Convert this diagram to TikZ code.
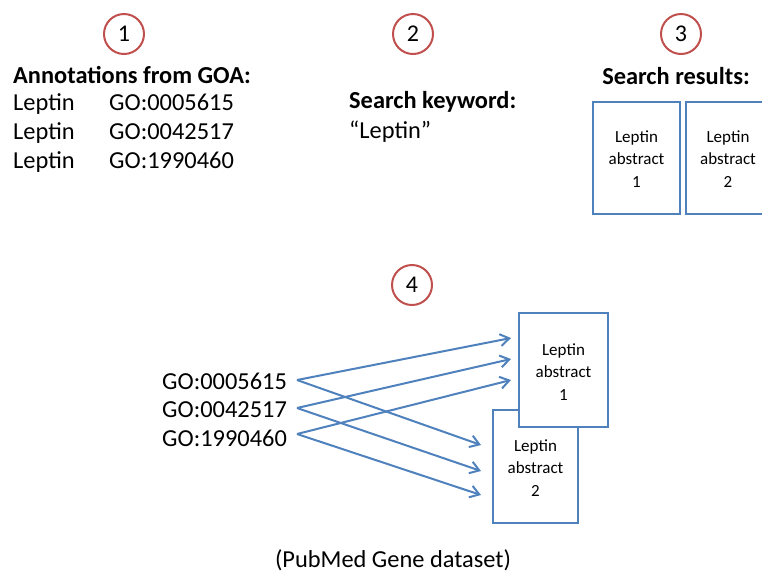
\documentclass[tikz,border=0pt]{standalone}
\usepackage{fontspec}
\setmainfont{Carlito}
\usetikzlibrary{arrows.meta}
\definecolor{numred}{HTML}{C0504D}
\definecolor{boxblue}{HTML}{4F81BD}
\begin{document}
\begin{tikzpicture}[x=1pt,y=-1pt,
  numcirc/.style={circle,draw=numred,line width=2pt,minimum size=40pt,inner sep=0pt,font=\fontsize{24}{28}\selectfont},
  txt/.style={anchor=base west,inner sep=0pt,font=\fontsize{24.4}{28}\selectfont},
  hdr/.style={anchor=base west,inner sep=0pt,font=\fontsize{24.4}{28}\selectfont\bfseries},
  absbox/.style={draw=boxblue,line width=2pt,fill=white,anchor=north west},
  abstxt/.style={align=center,inner sep=0pt,font=\fontsize{17}{22.5}\selectfont},
  link/.style={draw=boxblue,line width=2pt,-{Straight Barb[length=9pt,width=12pt,line width=2pt]}}
]
\useasboundingbox (0,0) rectangle (762,574);
% circles
\node[numcirc] (c1) at (124,34) {1};
\node[numcirc] (c2) at (413,34) {2};
\node[numcirc] (c3) at (681,34) {3};
\node[numcirc] (c4) at (412,285) {4};
% panel 1
\node[hdr] (h1) at (13,83) {Annotations from GOA:};
\node[txt] (l1) at (13,110) {Leptin};
\node[txt] (l2) at (13,139) {Leptin};
\node[txt] (l3) at (13,168) {Leptin};
\node[txt] (g1) at (109,110) {GO:0005615};
\node[txt] (g2) at (109,139) {GO:0042517};
\node[txt] (g3) at (109,168) {GO:1990460};
% panel 2
\node[hdr] (h2) at (349,108) {Search keyword:};
\node[txt] (kw) at (349,138) {“Leptin”};
% panel 3
\node[hdr,anchor=base] (h3) at (676,84) {Search results:};
\draw[absbox] (593,102) rectangle (680,214);
\node[abstxt] (r1) at (636.5,159) {Leptin\\abstract\\1};
\draw[absbox] (686,102) rectangle (775,214);
\node[abstxt] (r2) at (728,159) {Leptin\\abstract\\2};
% panel 4
\node[txt] (a1) at (162,389) {GO:0005615};
\node[txt] (a2) at (162,417) {GO:0042517};
\node[txt] (a3) at (162,446) {GO:1990460};
\draw[absbox] (493,410) rectangle (578,523);
\node[abstxt] (b2) at (535.5,468) {Leptin\\abstract\\2};
\draw[absbox] (519,313) rectangle (608,427);
\node[abstxt] (b1) at (563.5,372) {Leptin\\abstract\\1};
\coordinate (s1) at (297,380);
\coordinate (s2) at (297,408);
\coordinate (s3) at (297,434);
\coordinate (e11) at (511,338);
\coordinate (e12) at (511,359);
\coordinate (e13) at (511,380);
\coordinate (e21) at (481,445);
\coordinate (e22) at (481,471);
\coordinate (e23) at (481,495);
\draw[link] (s1) -- (e11);
\draw[link] (s1) -- (e21);
\draw[link] (s2) -- (e12);
\draw[link] (s2) -- (e22);
\draw[link] (s3) -- (e13);
\draw[link] (s3) -- (e23);
\node[txt,anchor=base] (cap) at (393,567) {(PubMed Gene dataset)};
\end{tikzpicture}
\end{document}
